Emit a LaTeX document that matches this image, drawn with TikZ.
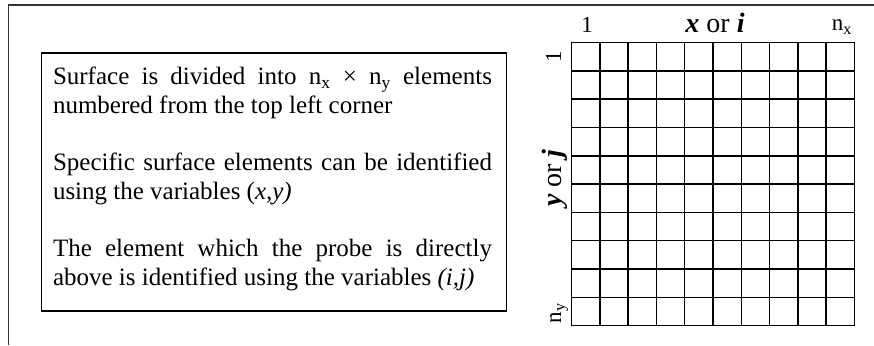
\documentclass[tikz,border=0pt]{standalone}
\usepackage{fontspec}
\setmainfont{Liberation Serif}
\usepackage{tikz}

\begin{document}
\begin{tikzpicture}[
			x=1pt, y=-1pt,
			every node/.style={inner sep=0pt, outer sep=0pt},
			frameline/.style={line width=1.5pt, black!80},
			gridline/.style={line width=1.5pt, line cap=rect},
			bodytext/.style={font=\fontsize{25}{28.7}\selectfont},
			axistitle/.style={font=\fontsize{28}{30}\selectfont},
			axisend/.style={font=\fontsize{23}{25}\selectfont},
			line join=miter
			]
			\useasboundingbox (0,0) rectangle (874,345);
			
			% Outer frame (open to the right and below)
			\draw[frameline] (8.5,345) -- (8.5,5) -- (874,5);
			
			% Text box
			\node[draw, line width=1.5pt, minimum width=465pt, minimum height=258pt,
			anchor=north west] (notebox) at (41.5,52.8) {};
			\node[bodytext, text width=439pt, align=justify, anchor=base west] (notes) at (53,84.5)
			{\tolerance=10000\parskip=28.7pt
				Surface is divided into n\textsubscript{x} × n\textsubscript{y} elements\linebreak
				numbered from the top left corner\par
				Specific surface elements can be identified\linebreak
				using the variables (\textit{x,y)}\par
				The element which the probe is directly\linebreak
				above is identified using the variables \textit{(i,j)}};
			
			% Grid of surface elements, 10 x 10
			% Top left corner: (571.5,42.6), cell 28.3
			\begin{scope}[shift={(571.5,42.6)}]
				\foreach \k in {0,...,10} {
					\draw[gridline] ({28.3*\k},0) -- ({28.3*\k},283);
					\draw[gridline] (0,{28.3*\k}) -- (283,{28.3*\k});
				}
			\end{scope}
			
			% Column labels
			\node[axisend, anchor=base] (xfirst) at (587,33) {1};
			\node[axistitle, anchor=base] (xlabel) at (715,33)
			{\textbf{\textit{x}} or \textbf{\textit{i}}};
			\node[axisend, anchor=base] (xlast) at (842,31) {n\textsubscript{x}};
			
			% Row labels, turned
			\node[axisend, rotate=90, anchor=base] (yfirst) at (561,57) {1};
			\node[axistitle, rotate=90, anchor=base] (ylabel) at (561,178)
			{\textbf{\textit{y}} or \textbf{\textit{j}}};
			\node[axisend, rotate=90, anchor=base] (ylast) at (561,313) {n\textsubscript{y}};
		\end{tikzpicture}
\end{document}
